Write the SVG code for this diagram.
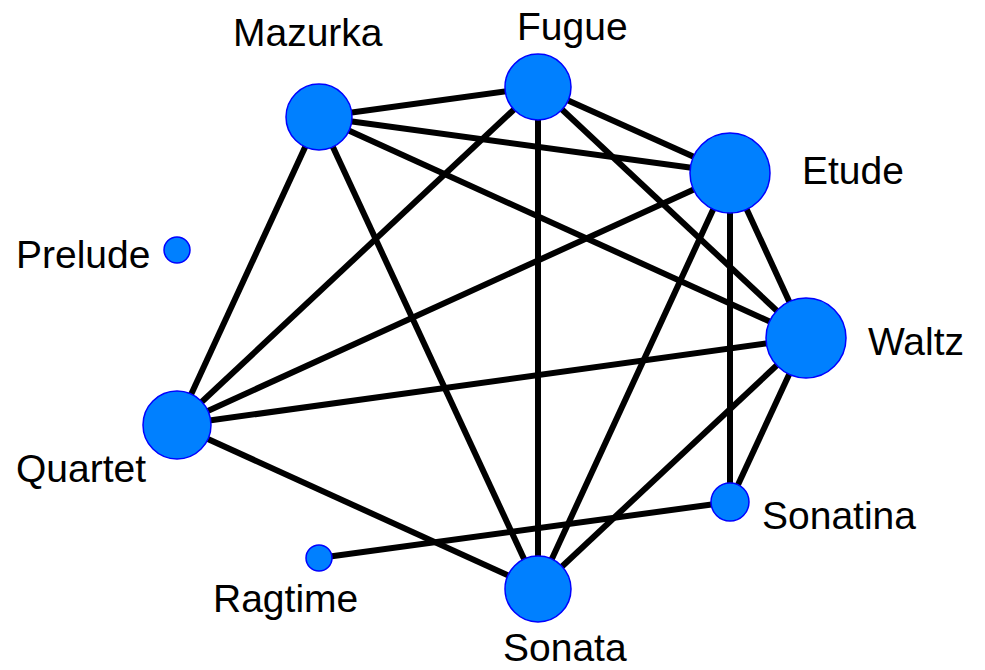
<svg xmlns="http://www.w3.org/2000/svg" width="985" height="670" viewBox="0 0 985 670">
<style>
.e{stroke:#000;stroke-width:6;fill:none}
.n{fill:#0080ff;stroke:#0000ff;stroke-width:1.5}
text{font-family:"Liberation Sans",Arial,sans-serif;font-size:39px;fill:#000}
</style>
<rect width="985" height="670" fill="#fff"/>
<g id="edges">
<line class="e" x1="319" y1="117" x2="538" y2="87"/>
<line class="e" x1="319" y1="117" x2="730" y2="173"/>
<line class="e" x1="319" y1="117" x2="806" y2="338"/>
<line class="e" x1="319" y1="117" x2="177" y2="425"/>
<line class="e" x1="319" y1="117" x2="538" y2="589"/>
<line class="e" x1="538" y1="87" x2="730" y2="173"/>
<line class="e" x1="538" y1="87" x2="806" y2="338"/>
<line class="e" x1="538" y1="87" x2="177" y2="425"/>
<line class="e" x1="538" y1="87" x2="538" y2="589"/>
<line class="e" x1="730" y1="173" x2="177" y2="425"/>
<line class="e" x1="730" y1="173" x2="538" y2="589"/>
<line class="e" x1="730" y1="173" x2="806" y2="338"/>
<line class="e" x1="730" y1="173" x2="730" y2="502"/>
<line class="e" x1="806" y1="338" x2="177" y2="425"/>
<line class="e" x1="806" y1="338" x2="538" y2="589"/>
<line class="e" x1="806" y1="338" x2="730" y2="502"/>
<line class="e" x1="177" y1="425" x2="538" y2="589"/>
<line class="e" x1="319" y1="558" x2="730" y2="502"/>
</g>
<g id="Mazurka"><circle class="n" cx="319" cy="117" r="33"/><text x="233" y="46">Mazurka</text></g>
<g id="Fugue"><circle class="n" cx="538" cy="87" r="33"/><text x="517" y="40">Fugue</text></g>
<g id="Etude"><circle class="n" cx="730" cy="173" r="40"/><text x="802" y="184">Etude</text></g>
<g id="Waltz"><circle class="n" cx="806" cy="338" r="40"/><text x="868" y="355">Waltz</text></g>
<g id="Sonatina"><circle class="n" cx="730" cy="502" r="19"/><text x="762" y="529">Sonatina</text></g>
<g id="Sonata"><circle class="n" cx="538" cy="589" r="33"/><text x="503" y="661">Sonata</text></g>
<g id="Ragtime"><circle class="n" cx="319" cy="558" r="13"/><text x="213" y="612">Ragtime</text></g>
<g id="Quartet"><circle class="n" cx="177" cy="425" r="34"/><text x="16" y="482">Quartet</text></g>
<g id="Prelude"><circle class="n" cx="177" cy="250" r="13"/><text x="16" y="268">Prelude</text></g>
</svg>
